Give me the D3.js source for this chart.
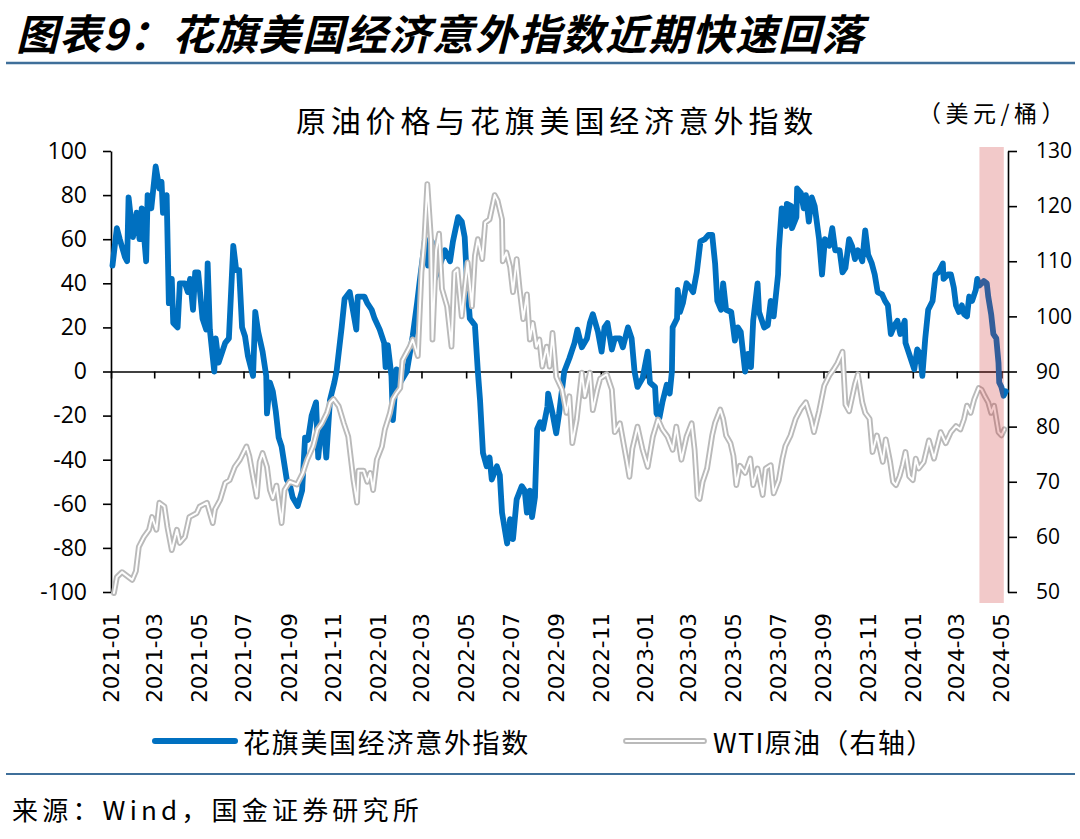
<!DOCTYPE html>
<html>
<head>
<meta charset="utf-8">
<script src="https://cdn.jsdelivr.net/npm/d3@7"></script>
<style>
  html, body { margin: 0; padding: 0; background: #fff; }
  svg { display: block; }
</style>
</head>
<body>
<svg id="chart" width="1080" height="839"></svg>
<script>
// ---------------- DATA ----------------
const citiDates = ["2021-01-03","2021-01-09","2021-01-13","2021-01-20","2021-01-23","2021-01-25","2021-01-31","2021-02-05","2021-02-09","2021-02-12","2021-02-18","2021-02-20","2021-02-25","2021-03-03","2021-03-08","2021-03-11","2021-03-13","2021-03-18","2021-03-21","2021-03-25","2021-03-27","2021-04-02","2021-04-05","2021-04-12","2021-04-16","2021-04-19","2021-04-23","2021-04-26","2021-04-30","2021-05-06","2021-05-11","2021-05-13","2021-05-16","2021-05-22","2021-05-24","2021-05-28","2021-06-02","2021-06-06","2021-06-11","2021-06-17","2021-06-21","2021-06-25","2021-06-29","2021-07-03","2021-07-07","2021-07-14","2021-07-17","2021-07-21","2021-07-27","2021-08-01","2021-08-02","2021-08-06","2021-08-10","2021-08-14","2021-08-18","2021-08-22","2021-08-29","2021-09-02","2021-09-06","2021-09-13","2021-09-19","2021-09-23","2021-09-27","2021-10-02","2021-10-08","2021-10-11","2021-10-15","2021-10-18","2021-10-22","2021-10-27","2021-11-02","2021-11-05","2021-11-12","2021-11-16","2021-11-23","2021-12-02","2021-12-04","2021-12-13","2021-12-17","2021-12-23","2021-12-27","2022-01-03","2022-01-09","2022-01-11","2022-01-14","2022-01-19","2022-01-21","2022-01-26","2022-01-31","2022-02-09","2022-02-17","2022-02-23","2022-02-27","2022-03-06","2022-03-10","2022-03-15","2022-03-19","2022-03-26","2022-04-02","2022-04-09","2022-04-13","2022-04-20","2022-04-25","2022-04-29","2022-05-02","2022-05-06","2022-05-13","2022-05-17","2022-05-20","2022-05-24","2022-05-29","2022-06-02","2022-06-05","2022-06-12","2022-06-16","2022-06-19","2022-06-26","2022-06-30","2022-07-04","2022-07-09","2022-07-16","2022-07-20","2022-07-23","2022-07-27","2022-07-30","2022-08-03","2022-08-06","2022-08-10","2022-08-14","2022-08-20","2022-08-21","2022-08-27","2022-09-01","2022-09-05","2022-09-09","2022-09-12","2022-09-19","2022-09-26","2022-09-30","2022-10-06","2022-10-13","2022-10-17","2022-10-21","2022-10-28","2022-11-02","2022-11-06","2022-11-10","2022-11-16","2022-11-20","2022-11-27","2022-12-01","2022-12-08","2022-12-13","2022-12-17","2022-12-21","2022-12-28","2023-01-04","2023-01-07","2023-01-14","2023-01-16","2023-01-20","2023-01-24","2023-01-30","2023-02-03","2023-02-06","2023-02-07","2023-02-13","2023-02-14","2023-02-17","2023-02-21","2023-02-26","2023-03-03","2023-03-07","2023-03-12","2023-03-17","2023-03-23","2023-03-28","2023-04-02","2023-04-06","2023-04-09","2023-04-14","2023-04-17","2023-04-21","2023-04-28","2023-05-03","2023-05-07","2023-05-11","2023-05-17","2023-05-21","2023-05-25","2023-05-28","2023-06-03","2023-06-05","2023-06-12","2023-06-17","2023-06-21","2023-06-25","2023-07-01","2023-07-02","2023-07-06","2023-07-12","2023-07-13","2023-07-19","2023-07-20","2023-07-26","2023-07-27","2023-08-01","2023-08-05","2023-08-08","2023-08-12","2023-08-16","2023-08-20","2023-08-26","2023-08-30","2023-09-03","2023-09-09","2023-09-13","2023-09-17","2023-09-23","2023-09-27","2023-10-01","2023-10-06","2023-10-10","2023-10-14","2023-10-18","2023-10-24","2023-10-28","2023-11-01","2023-11-06","2023-11-10","2023-11-14","2023-11-20","2023-11-24","2023-11-28","2023-12-02","2023-12-07","2023-12-11","2023-12-15","2023-12-21","2023-12-22","2023-12-29","2024-01-03","2024-01-07","2024-01-11","2024-01-14","2024-01-18","2024-01-22","2024-01-28","2024-02-01","2024-02-05","2024-02-11","2024-02-12","2024-02-18","2024-02-22","2024-02-26","2024-02-29","2024-03-04","2024-03-08","2024-03-11","2024-03-15","2024-03-18","2024-03-22","2024-03-27","2024-03-29","2024-04-01","2024-04-07","2024-04-11","2024-04-13","2024-04-17","2024-04-20","2024-04-24","2024-04-27","2024-04-28","2024-05-01","2024-05-04","2024-05-07"];
const citiValues = [48,65,60,52,50,79,61,72,60,74,50,80,74,93,83,86,72,80,31,42,22,20,40,40,36,42,28,45,45,24,19,49,19,0,15,4,9,13,15,57,46,46,20,16,7,-2,27,18,9,-2,-19,-5,-9,-18,-30,-34,-49,-51,-57,-61,-54,-30,-31,-20,-14,-39,-25,-23,-39,-13,-5,0,20,33,36,19,34,34,31,28,24,19,13,2,12,-2,-22,1,-5,0,16,31,42,60,48,59,42,48,55,50,59,70,68,61,42,24,21,0,-13,-37,-43,-39,-49,-43,-47,-64,-78,-67,-76,-58,-52,-54,-64,-54,-66,-57,-26,-23,-26,-16,-10,-19,-28,-19,-8,0,6,13,19,11,15,22,26,18,9,20,22,10,15,15,11,20,15,0,-7,-3,9,-5,-7,-19,-21,-14,-6,-10,0,20,24,37,27,31,40,38,36,45,59,60,62,62,49,32,28,40,28,27,14,20,18,0,8,2,23,40,27,20,21,32,25,44,55,74,66,76,75,65,70,83,81,74,80,68,79,75,60,44,60,57,65,55,55,45,47,60,57,51,55,50,64,53,49,44,36,35,32,30,17,21,23,17,23,13,6,1,10,8,-2,15,28,32,44,45,49,42,44,44,38,30,27,30,26,25,34,32,37,42,39,41,40,34,26,17,15,4,-5,-7,-11,-9];

const wtiDates = ["2021-01-05","2021-01-09","2021-01-16","2021-01-30","2021-02-04","2021-02-08","2021-02-15","2021-02-22","2021-02-26","2021-03-04","2021-03-08","2021-03-15","2021-03-19","2021-03-25","2021-04-01","2021-04-05","2021-04-12","2021-04-18","2021-04-28","2021-05-02","2021-05-12","2021-05-20","2021-05-23","2021-05-30","2021-06-06","2021-06-12","2021-06-19","2021-06-26","2021-07-05","2021-07-09","2021-07-13","2021-07-19","2021-07-23","2021-07-27","2021-08-02","2021-08-06","2021-08-10","2021-08-15","2021-08-22","2021-08-26","2021-09-02","2021-09-12","2021-09-20","2021-09-26","2021-10-04","2021-10-10","2021-10-16","2021-10-23","2021-10-27","2021-11-01","2021-11-08","2021-11-15","2021-11-21","2021-11-28","2021-12-03","2021-12-05","2021-12-12","2021-12-17","2021-12-21","2021-12-25","2021-12-30","2022-01-06","2022-01-10","2022-01-17","2022-01-21","2022-01-26","2022-01-31","2022-02-03","2022-02-13","2022-02-17","2022-02-24","2022-03-01","2022-03-05","2022-03-09","2022-03-14","2022-03-16","2022-03-21","2022-03-25","2022-03-29","2022-04-05","2022-04-11","2022-04-15","2022-04-19","2022-04-25","2022-04-29","2022-05-03","2022-05-09","2022-05-13","2022-05-17","2022-05-23","2022-05-27","2022-06-02","2022-06-09","2022-06-13","2022-06-19","2022-06-20","2022-06-25","2022-06-30","2022-07-04","2022-07-09","2022-07-13","2022-07-18","2022-07-23","2022-07-27","2022-07-31","2022-08-05","2022-08-09","2022-08-13","2022-08-19","2022-08-23","2022-08-27","2022-09-01","2022-09-09","2022-09-15","2022-09-19","2022-09-23","2022-09-29","2022-10-06","2022-10-10","2022-10-17","2022-10-21","2022-10-27","2022-10-31","2022-11-09","2022-11-16","2022-11-20","2022-11-27","2022-12-06","2022-12-10","2022-12-14","2022-12-21","2022-12-28","2023-01-04","2023-01-11","2023-01-18","2023-01-24","2023-01-31","2023-02-07","2023-02-12","2023-02-19","2023-02-26","2023-03-05","2023-03-09","2023-03-13","2023-03-16","2023-03-20","2023-03-26","2023-04-02","2023-04-06","2023-04-13","2023-04-17","2023-04-21","2023-04-27","2023-05-01","2023-05-05","2023-05-10","2023-05-17","2023-05-24","2023-05-28","2023-06-03","2023-06-10","2023-06-14","2023-06-21","2023-06-25","2023-07-02","2023-07-07","2023-07-11","2023-07-18","2023-07-25","2023-08-01","2023-08-08","2023-08-15","2023-08-19","2023-08-26","2023-09-02","2023-09-09","2023-09-15","2023-09-20","2023-09-27","2023-10-01","2023-10-06","2023-10-14","2023-10-18","2023-10-24","2023-10-28","2023-11-03","2023-11-07","2023-11-13","2023-11-17","2023-11-21","2023-11-25","2023-12-01","2023-12-05","2023-12-09","2023-12-14","2023-12-18","2023-12-22","2023-12-27","2024-01-01","2024-01-05","2024-01-09","2024-01-16","2024-01-23","2024-01-30","2024-02-08","2024-02-15","2024-02-22","2024-02-29","2024-03-06","2024-03-11","2024-03-15","2024-03-20","2024-03-25","2024-03-31","2024-04-04","2024-04-08","2024-04-13","2024-04-17","2024-04-21","2024-04-27","2024-05-01","2024-05-05"];
const wtiValues = [49.8,52.7,53.6,52.2,53.8,58.2,60,61.3,63.6,61.3,66.2,65.5,61.8,57.6,61.3,58.9,60,63.6,64.3,65.5,66.2,62.5,65,66.7,69.8,70.3,72.7,74,76.4,74.6,71.6,67.3,73.6,75.2,72.7,68.5,67,69.3,62.5,68.5,70,69.5,71.6,74,76.4,79.5,80.6,82.5,84.3,85,83.7,80.6,78.2,70.4,66.2,72,72,70,71.6,68.5,74,76.4,79.5,82.5,85,86.1,87,92,94.5,95.8,92.8,108,114,124,114,95.8,112,115,105,101.8,94.5,108,108.5,100,105,109.8,101.8,111,114,110.4,117,117.6,122,121,117.6,110,111.6,109,104.4,110.4,105,99.5,104,95.8,98.8,94.5,95.8,90.9,94.5,90.9,97,89,86.7,82.5,85.5,77,81.3,89.8,85.5,89.8,83,86.7,88.7,89.5,86.7,79,80.6,74,70.9,76,80,75.8,72.7,78.2,81.3,79.5,78.2,75.8,80,74,78.2,80.6,75.8,67.3,66.9,70,72.4,78.4,80.7,83.1,81.4,78.4,77,74.7,69.4,72.9,71.6,74.2,69.4,72.4,67.6,72.4,73,67.9,70.3,74.2,76.5,78.4,81.4,83.2,84.4,81.4,79,82.8,87.4,89.3,90.4,91.5,93.6,84,82.8,87.7,89.5,84.4,82.5,81.4,75.4,78.4,76,73.6,77.7,73.6,70,69.4,71,73,75.4,71,70.3,74.2,72.4,73.6,77.5,74.2,79,77,79,80.1,79.5,81.4,83.8,82.5,85,87,86.7,85.6,84.4,82.5,83.8,79,78.4,79.5];

const xTickLabels = ["2021-01","2021-03","2021-05","2021-07","2021-09","2021-11","2022-01","2022-03","2022-05","2022-07","2022-09","2022-11","2023-01","2023-03","2023-05","2023-07","2023-09","2023-11","2024-01","2024-03","2024-05"];
const leftTicks = [-100,-80,-60,-40,-20,0,20,40,60,80,100];
const rightTicks = [50,60,70,80,90,100,110,120,130];
const highlightRange = ["2024-04-01","2024-05-07"];

const titleText = "图表9：花旗美国经济意外指数近期快速回落";
const chartTitle = "原油价格与花旗美国经济意外指数";
const unitText = "（美元/桶）";
const seriesNames = ["花旗美国经济意外指数", "WTI原油（右轴）"];
const sourceText = "来源：Wind，国金证券研究所";

// ---------------- DRAW ----------------
const parse = d3.timeParse("%Y-%m-%d");
const parseM = d3.timeParse("%Y-%m");
const citi = citiDates.map((d, i) => ({ date: parse(d), v: citiValues[i] }));
const wti = wtiDates.map((d, i) => ({ date: parse(d), v: wtiValues[i] }));

const L = 111, R = 1008, T = 151, B = 592;
const svg = d3.select("#chart");
const cjk = "'Noto Sans CJK SC', 'Noto Sans', sans-serif";

const x = d3.scaleTime().domain([parse("2021-01-01"), parse("2024-05-10")]).range([L, R]);
const yL = d3.scaleLinear().domain([-100, 100]).range([B, T]);
const yR = d3.scaleLinear().domain([50, 130]).range([B, T]);

// header
svg.append("text").attr("x", 16).attr("y", 31).attr("dominant-baseline", "central")
  .attr("font-family", cjk).attr("font-size", 42).attr("font-weight", "bold")
  .attr("font-style", "italic").attr("letter-spacing", 1.3).attr("fill", "#000").text(titleText);
svg.append("line").attr("x1", 6).attr("x2", 1075).attr("y1", 63).attr("y2", 63)
  .attr("stroke", "#3f6f9a").attr("stroke-width", 2.5);

// chart title and unit
svg.append("text").attr("x", 557).attr("y", 119).attr("text-anchor", "middle")
  .attr("dominant-baseline", "central").attr("font-family", cjk).attr("font-size", 30)
  .attr("letter-spacing", 4.8).attr("fill", "#000").text(chartTitle);
svg.append("text").attr("x", 918).attr("y", 112).attr("text-anchor", "start")
  .attr("dominant-baseline", "central").attr("font-family", cjk).attr("font-size", 23)
  .attr("letter-spacing", 4.5).attr("fill", "#000").text(unitText);

// left axis
const gL = svg.append("g").attr("transform", `translate(${L},0)`)
  .call(d3.axisLeft(yL).tickValues(leftTicks).tickSize(8).tickPadding(16).tickSizeOuter(0)
    .tickFormat(d => String(d)));
gL.select(".domain").attr("stroke", "#000").attr("stroke-width", 1.6);
gL.selectAll(".tick line").attr("stroke", "#000").attr("stroke-width", 1.6);
gL.selectAll(".tick text").attr("font-family", "'Open Sans', sans-serif").attr("font-size", 23).attr("fill", "#000");

// right axis
const gR = svg.append("g").attr("transform", `translate(${R},0)`)
  .call(d3.axisRight(yR).tickValues(rightTicks).tickSize(9).tickPadding(19).tickSizeOuter(0)
    .tickFormat(d => String(d)));
gR.select(".domain").attr("stroke", "#000").attr("stroke-width", 1.6);
gR.selectAll(".tick line").attr("stroke", "#000").attr("stroke-width", 1.6);
gR.selectAll(".tick text").attr("font-family", "'Open Sans', sans-serif").attr("font-size", 21).attr("fill", "#000");

// x axis at zero
const xTickDates = xTickLabels.map(parseM);
const gX = svg.append("g").attr("transform", `translate(0,${yL(0)})`)
  .call(d3.axisBottom(x).tickValues(xTickDates).tickSize(7).tickFormat("").tickSizeOuter(0));
gX.select(".domain").attr("stroke", "#000").attr("stroke-width", 1.6);
gX.selectAll(".tick line").attr("stroke", "#000").attr("stroke-width", 1.6);

svg.append("g").selectAll("text").data(xTickLabels).join("text")
  .attr("transform", d => `translate(${x(parseM(d))},613) rotate(-90)`)
  .attr("text-anchor", "end").attr("dy", "0.36em")
  .attr("font-family", "'DejaVu Sans', sans-serif").attr("font-size", 21.5).attr("fill", "#000")
  .text(d => d);

// lines
const lineL = d3.line().x(d => x(d.date)).y(d => yL(d.v));
const lineR = d3.line().x(d => x(d.date)).y(d => yR(d.v));

svg.append("path").datum(citi).attr("d", lineL).attr("fill", "none")
  .attr("stroke", "#0070C0").attr("stroke-width", 5.8)
  .attr("stroke-linejoin", "round").attr("stroke-linecap", "round");

svg.append("path").datum(wti).attr("d", lineR).attr("fill", "none")
  .attr("stroke", "#BABABA").attr("stroke-width", 5.8)
  .attr("stroke-linejoin", "round").attr("stroke-linecap", "round");
svg.append("path").datum(wti).attr("d", lineR).attr("fill", "none")
  .attr("stroke", "#ffffff").attr("stroke-width", 2)
  .attr("stroke-linejoin", "round").attr("stroke-linecap", "round");

// highlight band
const h0 = x(parse(highlightRange[0])), h1 = x(parse(highlightRange[1]));
svg.append("rect").attr("x", h0).attr("y", T - 4).attr("width", h1 - h0 - 2)
  .attr("height", B - T + 15).attr("fill", "#cc2828").attr("fill-opacity", 0.25);

// legend
svg.append("line").attr("x1", 155).attr("x2", 235).attr("y1", 741).attr("y2", 741)
  .attr("stroke", "#0070C0").attr("stroke-width", 6).attr("stroke-linecap", "round");
svg.append("text").attr("x", 243).attr("y", 741).attr("dominant-baseline", "central")
  .attr("font-family", cjk).attr("font-size", 27).attr("letter-spacing", 1.7)
  .attr("fill", "#000").text(seriesNames[0]);
svg.append("line").attr("x1", 626).attr("x2", 704).attr("y1", 741).attr("y2", 741)
  .attr("stroke", "#BABABA").attr("stroke-width", 5.8).attr("stroke-linecap", "round");
svg.append("line").attr("x1", 626).attr("x2", 704).attr("y1", 741).attr("y2", 741)
  .attr("stroke", "#fff").attr("stroke-width", 2).attr("stroke-linecap", "round");
svg.append("text").attr("x", 713).attr("y", 741).attr("dominant-baseline", "central")
  .attr("font-family", cjk).attr("font-size", 27).attr("letter-spacing", 1.3)
  .attr("fill", "#000").text(seriesNames[1]);

// footer
svg.append("line").attr("x1", 6).attr("x2", 1075).attr("y1", 774).attr("y2", 774)
  .attr("stroke", "#3f6f9a").attr("stroke-width", 2);
svg.append("text").attr("x", 12).attr("y", 808).attr("dominant-baseline", "central")
  .attr("font-family", cjk).attr("font-size", 26).attr("letter-spacing", 4.2)
  .attr("fill", "#000").text(sourceText);
</script>
</body>
</html>
